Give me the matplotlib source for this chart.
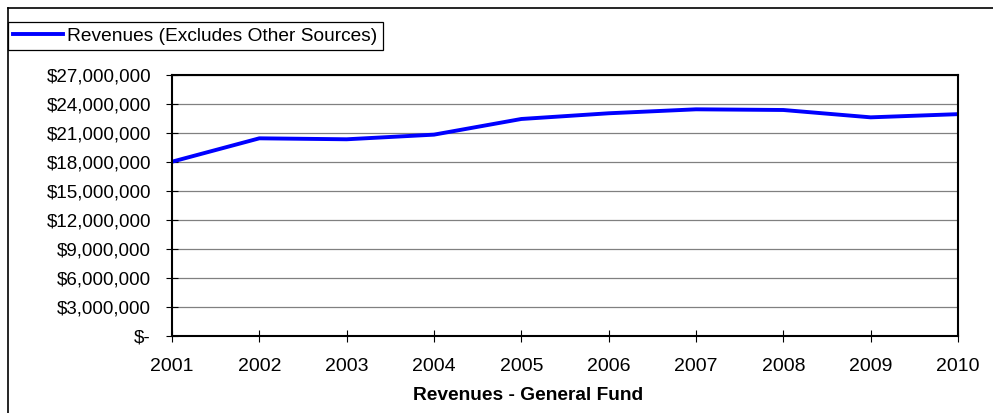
import matplotlib
matplotlib.use("Agg")
import matplotlib.pyplot as plt
from matplotlib.lines import Line2D
from matplotlib.ticker import FuncFormatter

years = [2001, 2002, 2003, 2004, 2005, 2006, 2007, 2008, 2009, 2010]
revenues = [18030000, 20450000, 20350000, 20830000, 22450000,
            23040000, 23450000, 23380000, 22620000, 22950000]
series_label = "Revenues (Excludes Other Sources)"
xlabel = "Revenues - General Fund"
yticks = [0, 3000000, 6000000, 9000000, 12000000, 15000000,
          18000000, 21000000, 24000000, 27000000]

plt.rcParams['font.family'] = ['Liberation Sans', 'DejaVu Sans']

W, H = 993, 413
fig = plt.figure(figsize=(W / 100, H / 100), dpi=100)
fig.patch.set_facecolor('white')

L, R, T, B = 172, 958, 75, 336
ax = fig.add_axes([L / W, 1 - B / H, (R - L) / W, (B - T) / H])

line, = ax.plot(years, revenues, color='#0000FF', linewidth=2.8,
                label=series_label, solid_joinstyle='round')

ax.set_xlim(years[0], years[-1])
ax.set_ylim(0, 27000000)
ax.set_xticks(years)
ax.set_yticks(yticks)

def fmt(v, pos):
    if v == 0:
        return "$-"
    return "${:,.0f}".format(v)
ax.yaxis.set_major_formatter(FuncFormatter(fmt))

ax.yaxis.grid(True, color='#808080', linewidth=0.9)
ax.set_axisbelow(True)
for s in ax.spines.values():
    s.set_color('black')
    s.set_linewidth(1.5)

ax.tick_params(axis='x', direction='inout', length=9, width=0.8,
               labelsize=14, pad=11)
ax.tick_params(axis='y', direction='inout', length=9, width=0.8,
               labelsize=13.5, pad=10.6)

fig.text(528 / W, 1 - 395 / H, xlabel, ha='center', va='center',
         fontsize=13.8, fontweight='bold')

# figure border (cropped)
fig.add_artist(Line2D([8 / W, 8 / W], [0, 1 - 8 / H], transform=fig.transFigure,
                      color='black', linewidth=1.2))
fig.add_artist(Line2D([8 / W, 1], [1 - 8 / H, 1 - 8 / H], transform=fig.transFigure,
                      color='black', linewidth=1.2))

leg = fig.legend(handles=[line], loc='upper left',
                 bbox_to_anchor=(8 / W, 1 - 22 / H),
                 frameon=True, fancybox=False, edgecolor='black',
                 fontsize=13.8, borderpad=0.28, handlelength=2.6,
                 handletextpad=0.2, borderaxespad=0, framealpha=1)
leg.get_frame().set_linewidth(0.9)

fig.savefig("out.png", dpi=100)
